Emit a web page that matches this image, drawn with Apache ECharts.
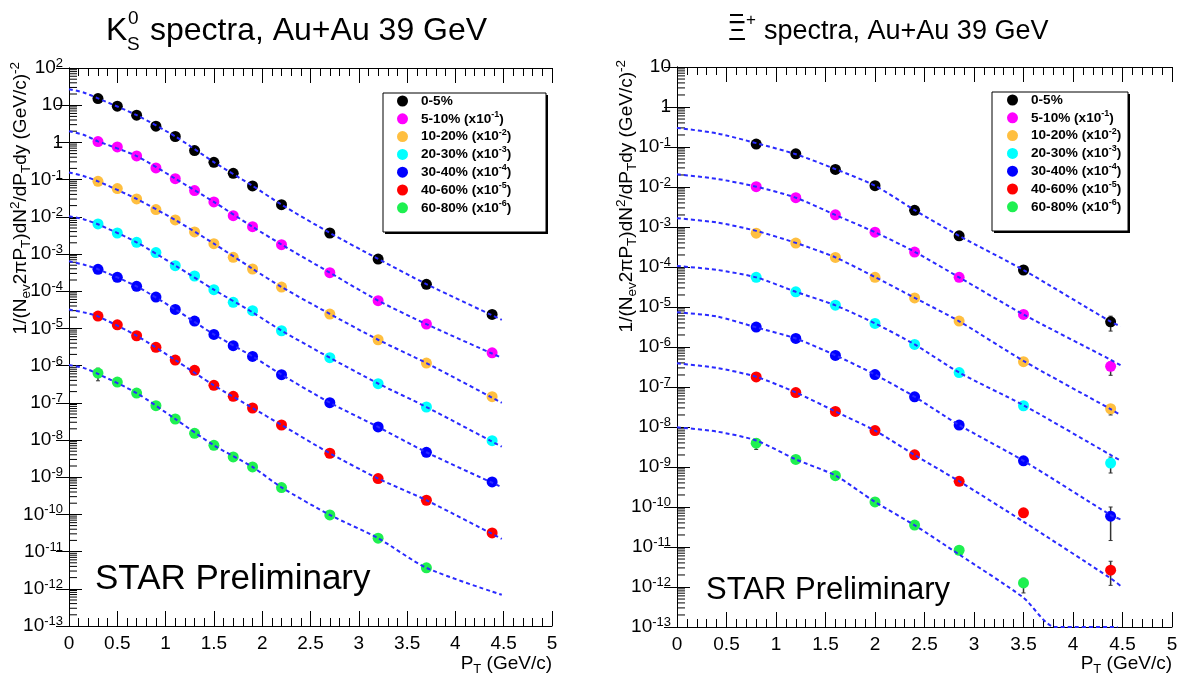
<!DOCTYPE html>
<html><head><meta charset="utf-8">
<script src="https://cdn.jsdelivr.net/npm/echarts@6/dist/echarts.min.js"></script>
<style>html,body{margin:0;padding:0;background:#fff}#c{width:1183px;height:679px}</style>
</head><body><div id="c"></div>
<script>
// ---------------- DATA ----------------
const centralities = ['0-5%','5-10%','10-20%','20-30%','30-40%','40-60%','60-80%'];
const scaleExps = ['', '-1', '-2', '-3', '-4', '-5', '-6'];
const xTicks = [0, 0.5, 1, 1.5, 2, 2.5, 3, 3.5, 4, 4.5, 5];

// K0S spectra (left)
const k0sPt = [0.3,0.5,0.7,0.9,1.1,1.3,1.5,1.7,1.9,2.2,2.7,3.2,3.7,4.38];
const k0s_0_5   = [15.1,9.4,5.38,2.72,1.44,0.603,0.292,0.148,0.0676,0.0212,3.67e-3,7.33e-4,1.53e-4,2.38e-5];
const k0s_5_10  = [1.05,0.757,0.434,0.206,0.106,0.0506,0.0251,0.0107,5.43e-3,1.78e-3,3.15e-4,5.55e-5,1.31e-5,2.21e-6];
const k0s_10_20 = [0.0902,0.0573,0.0302,0.0156,8.23e-3,3.91e-3,1.9e-3,8.13e-4,3.95e-4,1.29e-4,2.43e-5,4.95e-6,1.17e-6,1.46e-7];
const k0s_20_30 = [6.41e-3,3.67e-3,2.06e-3,1.09e-3,4.85e-4,2.56e-4,1.10e-4,5.01e-5,2.99e-5,8.65e-6,1.63e-6,3.27e-7,7.71e-8,9.62e-9];
const k0s_30_40 = [3.87e-4,2.36e-4,1.35e-4,6.97e-5,3.24e-5,1.57e-5,6.9e-6,3.42e-6,1.77e-6,5.7e-7,1.01e-7,2.24e-8,4.68e-9,7.46e-10];
const k0s_40_60 = [2.14e-5,1.25e-5,6.35e-6,3.09e-6,1.41e-6,7.45e-7,2.95e-7,1.49e-7,7.25e-8,2.53e-8,4.4e-9,9.16e-10,2.4e-10,3.18e-11];
const k0s_60_80 = [6.3e-7,3.62e-7,1.83e-7,8.37e-8,3.67e-8,1.51e-8,7.21e-9,3.5e-9,1.89e-9,5.26e-10,9.7e-11,2.29e-11,3.66e-12,null];

// K0S fit curves (dashed)
const k0sFitPt = [0,0.15,0.3,0.7,1.1,1.5,1.9,2.2,2.7,3.2,3.7,4.48];
const k0sFit_0_5   = [27,22,15.3,5.4,1.45,0.295,0.068,0.0212,3.7e-3,7.4e-4,1.55e-4,1.7e-5];
const k0sFit_5_10  = [2.0,1.6,1.07,0.43,0.106,0.0251,5.4e-3,1.8e-3,3.15e-4,5.6e-5,1.3e-5,1.62e-6];
const k0sFit_10_20 = [0.155,0.125,0.09,0.0302,8.2e-3,1.9e-3,4.0e-4,1.3e-4,2.45e-5,4.95e-6,1.17e-6,1.0e-7];
const k0sFit_20_30 = [0.0103,8.6e-3,6.3e-3,2.06e-3,4.9e-4,1.1e-4,2.7e-5,8.7e-6,1.63e-6,3.3e-7,7.7e-8,6.6e-9];
const k0sFit_30_40 = [6.35e-4,5.2e-4,3.9e-4,1.35e-4,3.24e-5,6.9e-6,1.77e-6,5.7e-7,1.01e-7,2.24e-8,4.68e-9,5.4e-10];
const k0sFit_40_60 = [3.2e-5,2.7e-5,2.1e-5,6.35e-6,1.41e-6,2.95e-7,7.25e-8,2.53e-8,4.4e-9,9.2e-10,2.4e-10,2.2e-11];
const k0sFit_60_80 = [1.04e-6,8.7e-7,6.0e-7,1.83e-7,3.67e-8,7.2e-9,1.89e-9,5.3e-10,9.7e-11,2.29e-11,3.66e-12,6.9e-13];

// K0S error bars [pT, low, high]
const k0sErr = [[0.3,3.9e-7,8.5e-7]];

// Anti-Xi spectra (right)
const xiPt = [0.8,1.2,1.6,2.0,2.4,2.85,3.5,4.38];
const xi_0_5   = [0.118,0.0676,0.0275,0.0108,2.62e-3,6.03e-4,8.42e-5,4.27e-6];
const xi_5_10  = [0.0102,5.42e-3,2.01e-3,7.43e-4,2.36e-4,5.53e-5,6.5e-6,3.29e-7];
const xi_10_20 = [7.02e-4,3.96e-4,1.74e-4,5.53e-5,1.69e-5,4.44e-6,4.3e-7,2.86e-8];
const xi_20_30 = [5.53e-5,2.39e-5,1.11e-5,3.88e-6,1.16e-6,2.29e-7,3.4e-8,1.25e-9];
const xi_30_40 = [3.15e-6,1.64e-6,6.17e-7,2.04e-7,5.69e-8,1.12e-8,1.43e-9,5.9e-11];
const xi_40_60 = [1.79e-7,7.28e-8,2.45e-8,8.12e-9,2.02e-9,4.39e-10,7.16e-11,2.64e-12];
const xi_60_80 = [3.94e-9,1.55e-9,6.07e-10,1.34e-10,3.53e-11,8.29e-12,1.26e-12,null];

// Anti-Xi fit curves
const xiFitPt = [0,0.4,0.8,1.2,1.6,2.0,2.4,2.85,3.5,4.38,4.48];
const xiFit_0_5   = [0.30,0.22,0.125,0.066,0.028,0.0108,2.65e-3,6.0e-4,8.4e-5,4.3e-6,3.3e-6];
const xiFit_5_10  = [0.0207,0.016,0.0102,5.4e-3,2.0e-3,7.4e-4,2.4e-4,5.5e-5,6.5e-6,4.8e-7,3.5e-7];
const xiFit_10_20 = [1.66e-3,1.3e-3,8.0e-4,4.0e-4,1.74e-4,5.6e-5,1.7e-5,4.4e-6,4.5e-7,2.8e-8,2.0e-8];
const xiFit_20_30 = [1.06e-4,8.5e-5,5.5e-5,2.4e-5,1.1e-5,3.9e-6,1.16e-6,2.3e-7,3.5e-8,2.0e-9,1.46e-9];
const xiFit_30_40 = [7.4e-6,5.8e-6,3.1e-6,1.63e-6,6.2e-7,2.04e-7,5.7e-8,1.12e-8,1.43e-9,6.3e-11,4.9e-11];
const xiFit_40_60 = [3.9e-7,3.0e-7,1.8e-7,7.3e-8,2.45e-8,8.1e-9,2.0e-9,4.4e-10,4.3e-11,1.65e-12,1.07e-12];
const xiFitPt_60_80 = [0,0.4,0.8,1.2,1.6,2.0,2.4,2.85,3.5,3.82,4.45];
const xiFit_60_80 = [9.8e-9,7.7e-9,4.6e-9,1.55e-9,6.1e-10,1.34e-10,3.5e-11,6.5e-12,5.4e-13,1e-13,1e-13];

// Anti-Xi error bars [pT, low, high]
const xiErr = [[4.38,2.5e-6,5.9e-6],[4.38,1.96e-7,4.2e-7],[4.38,2.0e-8,3.4e-8],[4.38,7.07e-10,1.77e-9],
               [4.38,1.45e-11,1.0e-10],[4.38,1.1e-12,4.4e-12],[0.8,2.75e-9,5.0e-9],[3.5,7.1e-13,1.66e-12]];

// ---------------- STYLE ----------------
const FONT = '"Liberation Sans", Arial, Helvetica, sans-serif';
const colors = ['#000000','#ff00ff','#ffbf40','#00ffff','#0000ff','#ff0000','#1ef050'];
const fitColor = '#2a2aff';

const kSets = [k0s_0_5,k0s_5_10,k0s_10_20,k0s_20_30,k0s_30_40,k0s_40_60,k0s_60_80];
const kFits = [k0sFit_0_5,k0sFit_5_10,k0sFit_10_20,k0sFit_20_30,k0sFit_30_40,k0sFit_40_60,k0sFit_60_80];
const xSets = [xi_0_5,xi_5_10,xi_10_20,xi_20_30,xi_30_40,xi_40_60,xi_60_80];
const xFits = [xiFit_0_5,xiFit_5_10,xiFit_10_20,xiFit_20_30,xiFit_30_40,xiFit_40_60,xiFit_60_80];
const xFitPts = [xiFitPt,xiFitPt,xiFitPt,xiFitPt,xiFitPt,xiFitPt,xiFitPt_60_80];

function zip(xs, ys){ const o=[]; xs.forEach((x,i)=>{ if(ys[i]!=null) o.push([x, ys[i]]); }); return o; }

function expLabel(v){
  const e = Math.round(Math.log10(v));
  if (e===0) return '{b|1}';
  if (e===1) return '{b|10}';
  return '{b|10}{e|'+e+'}';
}
const labelRich = {
  b:{fontSize:19, fontFamily:FONT, color:'#000', lineHeight:22},
  e:{fontSize:13, fontFamily:FONT, color:'#000', lineHeight:13, verticalAlign:'top'}
};

function minorTicks(minExp, maxExp){
  const out=[];
  for(let e=minExp;e<maxExp;e++){ for(const m of [2,3,4,5,6,7,8,9]) out.push([0, m*Math.pow(10,e)]); }
  return out;
}

function renderMinor(params, api){
  const cs = params.coordSys;
  const p = api.coord([0, api.value(1)]);
  return {type:'line', shape:{x1:cs.x, y1:p[1], x2:cs.x+8, y2:p[1]}, style:{stroke:'#000', lineWidth:1}};
}
function renderErr(params, api){
  const x = api.value(0);
  const p1 = api.coord([x, api.value(1)]);
  const p2 = api.coord([x, api.value(2)]);
  return {type:'group', children:[
    {type:'line', shape:{x1:p1[0],y1:p1[1],x2:p2[0],y2:p2[1]}, style:{stroke:'#333', lineWidth:1.5}},
    {type:'line', shape:{x1:p1[0]-2,y1:p1[1],x2:p1[0]+2,y2:p1[1]}, style:{stroke:'#333', lineWidth:1}},
    {type:'line', shape:{x1:p2[0]-2,y1:p2[1],x2:p2[0]+2,y2:p2[1]}, style:{stroke:'#333', lineWidth:1}}
  ]};
}

function xAxisPair(gi){
  const base = {type:'value', gridIndex:gi, min:0, max:5, interval:0.5,
    axisLine:{show:true, lineStyle:{color:'#000', width:1}},
    axisTick:{show:true, inside:true, length:15, lineStyle:{color:'#000'}},
    minorTick:{show:true, splitNumber:5, length:8, lineStyle:{color:'#000'}},
    splitLine:{show:false}};
  return [
    Object.assign({}, base, {position:'bottom',
      axisLabel:{show:true, fontSize:19, fontFamily:FONT, color:'#000', margin:8,
        formatter:v=>String(xTicks.find(t=>Math.abs(t-v)<1e-6) ?? v)}}),
    Object.assign({}, base, {position:'top', axisLabel:{show:false}})
  ];
}
function yAxisPair(gi, minV, maxV){
  const base = {type:'log', logBase:10, gridIndex:gi, min:minV, max:maxV, interval:1, splitNumber:16,
    axisLine:{show:true, lineStyle:{color:'#000', width:1}},
    axisTick:{show:true, inside:true, length:13, lineStyle:{color:'#000'}},
    splitLine:{show:false}};
  return [
    Object.assign({}, base, {position:'left',
      axisLabel:{show:true, margin:6, formatter:expLabel, rich:labelRich}}),
    Object.assign({}, base, {position:'right', axisLabel:{show:false}})
  ];
}

const series = [];
function addPanel(gi, pts, sets, fitPts, fits, errs, minExp, maxExp){
  const xi = gi*2, yi = gi*2;
  series.push({type:'custom', xAxisIndex:xi, yAxisIndex:yi, renderItem:renderMinor,
    data:minorTicks(minExp, maxExp), encode:{x:0,y:1}, silent:true, z:1});
  series.push({type:'custom', xAxisIndex:xi, yAxisIndex:yi, renderItem:renderErr,
    data:errs, encode:{x:0,y:[1,2]}, silent:true, z:2});
  sets.forEach((vals,i)=>{
    series.push({type:'scatter', name:centralities[i], xAxisIndex:xi, yAxisIndex:yi,
      data:zip(pts, vals), symbol:'circle', symbolSize:11,
      itemStyle:{color:colors[i], opacity:1}, z:3, silent:true});
  });
  fits.forEach((vals,i)=>{
    const fp = Array.isArray(fitPts[0]) ? fitPts[i] : fitPts;
    series.push({type:'line', name:'fit'+gi+'_'+i, xAxisIndex:xi, yAxisIndex:yi,
      data:zip(fp, vals), symbol:'none', smooth:0.25,
      lineStyle:{color:fitColor, width:2, type:[4,3]}, z:4, silent:true});
  });
}
addPanel(0, k0sPt, kSets, k0sFitPt, kFits, k0sErr, -13, 2);
addPanel(1, xiPt, xSets, xFitPts, xFits, xiErr, -13, 1);

function legendFmt(name){
  const i = centralities.indexOf(name);
  if (!scaleExps[i]) return '{t|'+name+'}';
  return '{t|'+name+' (x10}{s|'+scaleExps[i]+'}{t|)}';
}
function legendCfg(left, top){
  return {data:centralities, left:left, top:top, orient:'vertical', icon:'circle',
    itemWidth:11, itemHeight:11, itemGap:1.8, selectedMode:false, z:10, padding:0,
    formatter:legendFmt,
    textStyle:{padding:[0,0,0,8], rich:{
      t:{fontSize:13.6, fontWeight:'bold', fontFamily:FONT, color:'#000', lineHeight:18},
      s:{fontSize:9, fontWeight:'bold', fontFamily:FONT, color:'#000', lineHeight:11, verticalAlign:'top'}}}};
}

const yTitleRich = {
  m:{fontSize:19, fontFamily:FONT, color:'#000', lineHeight:25},
  sub:{fontSize:13.5, fontFamily:FONT, color:'#000', lineHeight:12, verticalAlign:'bottom'},
  sup:{fontSize:13.5, fontFamily:FONT, color:'#000', lineHeight:12, verticalAlign:'top'}
};
const yTitleText = '{m|1/(N}{sub|ev}{m|2πP}{sub|T}{m|)dN}{sup|2}{m|/dP}{sub|T}{m|dy (GeV/c)}{sup|-2}';
const xTitleRich = {
  m:{fontSize:19, fontFamily:FONT, color:'#000', lineHeight:24},
  sub:{fontSize:13, fontFamily:FONT, color:'#000', lineHeight:12, verticalAlign:'bottom'}
};
const xTitleText = '{m|P}{sub|T}{m| (GeV/c)}';

function legendBox(x,y,w,h){
  return [
    {type:'rect', shape:{x:x+2,y:y+2,width:w,height:h}, style:{fill:'#000'}, z:5},
    {type:'rect', shape:{x:x,y:y,width:w,height:h}, style:{fill:'#fff', stroke:'#000', lineWidth:1}, z:6}
  ];
}
function txt(x,y,text,size){
  return {type:'text', x:x, y:y, z:20, style:{text:text, fill:'#000',
    font:size+'px '+FONT, verticalAlign:'middle', align:'left'}};
}

const graphics = [].concat(
  legendBox(383,93,163,139),
  legendBox(992,92,136,139),
  [
    txt(106,31,'K',32),
    txt(128,19,'0',19),
    txt(127,45,'S',19),
    txt(150,31,'spectra, Au+Au 39 GeV',32),
    txt(728,32,'\u039E',28),
    {type:'rect', shape:{x:730,y:14,width:13,height:2}, style:{fill:'#000'}, z:20},
    txt(746,20,'+',17),
    txt(764,32,'spectra, Au+Au 39 GeV',27),
    txt(95,579,'STAR Preliminary',35),
    txt(706,590,'STAR Preliminary',31),
    {type:'text', x:552, y:664, z:20, style:{text:xTitleText, rich:xTitleRich, align:'right', verticalAlign:'middle'}},
    {type:'text', x:1172, y:664, z:20, style:{text:xTitleText, rich:xTitleRich, align:'right', verticalAlign:'middle'}},
    {type:'text', x:21, y:62, rotation:Math.PI/2, z:20, style:{text:yTitleText, rich:yTitleRich, align:'right', verticalAlign:'middle'}},
    {type:'text', x:627, y:60, rotation:Math.PI/2, z:20, style:{text:yTitleText, rich:yTitleRich, align:'right', verticalAlign:'middle'}}
  ]
);

const chart = echarts.init(document.getElementById('c'), null, {renderer:'canvas'});
chart.setOption({
  animation:false,
  backgroundColor:'#fff',
  grid:[{left:69, top:68, width:483, height:558}, {left:677, top:67, width:495, height:560}],
  xAxis:[].concat(xAxisPair(0), xAxisPair(1)),
  yAxis:[].concat(yAxisPair(0, 1e-13, 1e2), yAxisPair(1, 1e-13, 1e1)),
  legend:[legendCfg(397,94), legendCfg(1007,93)],
  graphic:graphics,
  series:series
});
</script>
</body></html>
